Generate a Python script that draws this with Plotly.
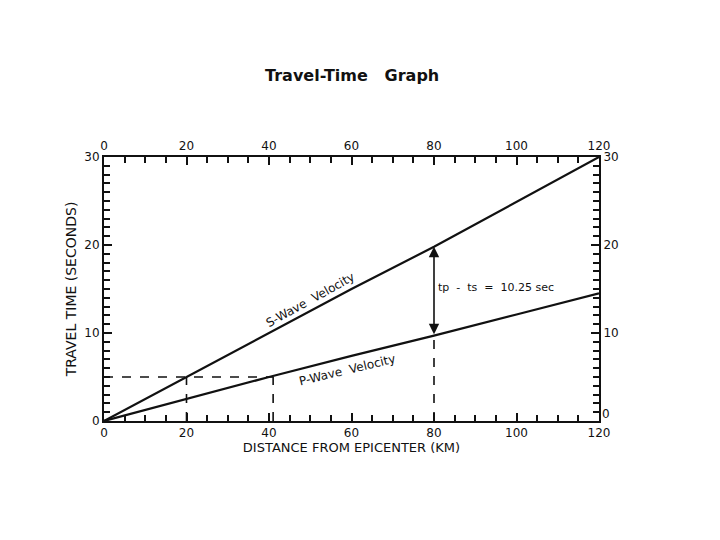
import plotly.graph_objects as go

# ---------------------------------------------------------------------------
# Data
# ---------------------------------------------------------------------------
distance_km = [0, 20, 40, 60, 80, 100, 120]
s_wave_time = [0, 5.0, 10.0, 15.0, 19.8, 24.9, 30.0]
p_wave_time = [0, 2.5, 5.0, 7.4, 9.7, 12.1, 14.5]

x_ticks = [0, 20, 40, 60, 80, 100, 120]
y_ticks = [0, 10, 20, 30]
y2_ticktext = ["", "10", "20", "30"]  # the right-hand "0" is placed by hand, above the corner

# reading guides (dashed)
guide_time = 5.0
s_guide_km = 20
p_guide_km = 41
diff_km = 80
p_at_diff = 9.7
s_at_diff = 19.8

INK = "#111111"
FONT = "DejaVu Sans"

fig = go.Figure()

fig.add_trace(go.Scatter(x=distance_km, y=s_wave_time, mode="lines",
                         line=dict(color=INK, width=2.2), showlegend=False))
fig.add_trace(go.Scatter(x=distance_km, y=p_wave_time, mode="lines",
                         line=dict(color=INK, width=2.2), showlegend=False))

dash = dict(color=INK, width=1.6, dash="dash")
fig.add_trace(go.Scatter(x=[0, p_guide_km], y=[guide_time, guide_time], mode="lines",
                         line=dash, showlegend=False))
fig.add_trace(go.Scatter(x=[s_guide_km, s_guide_km], y=[0, guide_time], mode="lines",
                         line=dash, showlegend=False))
fig.add_trace(go.Scatter(x=[p_guide_km, p_guide_km], y=[0, guide_time], mode="lines",
                         line=dash, showlegend=False))
fig.add_trace(go.Scatter(x=[diff_km, diff_km], y=[0, p_at_diff], mode="lines",
                         line=dash, showlegend=False))

# invisible trace so the top/right axes get drawn
fig.add_trace(go.Scatter(x=[0, 120], y=[0, 30], xaxis="x2", yaxis="y2", mode="markers",
                         marker=dict(opacity=0), hoverinfo="skip", showlegend=False))

# double-headed arrow between the curves at 80 km
fig.add_annotation(x=diff_km, y=s_at_diff, ax=diff_km, ay=p_at_diff,
                   xref="x", yref="y", axref="x", ayref="y", text="",
                   showarrow=True, arrowhead=2, arrowside="end+start",
                   arrowsize=1.3, arrowwidth=1.6, arrowcolor=INK)

fig.add_annotation(x=80.6, y=15.2, xref="x", yref="y", text="tp  -  ts  =  10.25 sec",
                   showarrow=False, xanchor="left", font=dict(size=11, color=INK, family=FONT))
fig.add_annotation(x=50, y=13.7, xref="x", yref="y", text="S-Wave  Velocity",
                   showarrow=False, textangle=-29, font=dict(size=12, color=INK, family=FONT))
fig.add_annotation(x=59, y=5.8, xref="x", yref="y", text="P-Wave  Velocity",
                   showarrow=False, textangle=-13.5, font=dict(size=12, color=INK, family=FONT))
fig.add_annotation(x=1.0, y=0, xref="paper", yref="y", text="0", showarrow=False,
                   xanchor="left", yanchor="bottom", xshift=1, yshift=-2,
                   font=dict(size=12, color=INK, family=FONT))

axis_common = dict(
    showgrid=False, zeroline=False, showline=True, linecolor=INK, linewidth=2,
    ticks="inside", ticklen=8, tickwidth=2, tickcolor=INK,
    tickfont=dict(size=12, color=INK, family=FONT),
)

fig.update_layout(
    width=720, height=540,
    margin=dict(l=96, r=129, t=149, b=127),
    paper_bgcolor="white", plot_bgcolor="white",
    font=dict(family=FONT, color=INK),
    title=dict(text="<b>Travel-Time   Graph</b>", x=0.478, xanchor="center",
               y=0.876, yanchor="middle", font=dict(size=16, color=INK, family=FONT)),
    xaxis=dict(axis_common, range=[0, 120], tickvals=x_ticks,
               minor=dict(dtick=5, ticks="inside", ticklen=6, tickwidth=2, tickcolor=INK),
               title=dict(text="DISTANCE FROM EPICENTER (KM)", standoff=2,
                          font=dict(size=13, color=INK, family=FONT))),
    yaxis=dict(axis_common, range=[0, 30], tickvals=y_ticks,
               minor=dict(dtick=1, ticks="inside", ticklen=6, tickwidth=2, tickcolor=INK),
               title=dict(text="TRAVEL TIME (SECONDS)", standoff=4,
                          font=dict(size=14, color=INK, family=FONT))),
    xaxis2=dict(axis_common, range=[0, 120], tickvals=x_ticks, overlaying="x", side="top",
                anchor="y2",
                minor=dict(dtick=5, ticks="inside", ticklen=6, tickwidth=2, tickcolor=INK)),
    yaxis2=dict(axis_common, range=[0, 30], tickvals=y_ticks, ticktext=y2_ticktext,
                overlaying="y", side="right", anchor="x2",
                minor=dict(dtick=1, ticks="inside", ticklen=6, tickwidth=2, tickcolor=INK)),
)

fig.write_html("out.html")
